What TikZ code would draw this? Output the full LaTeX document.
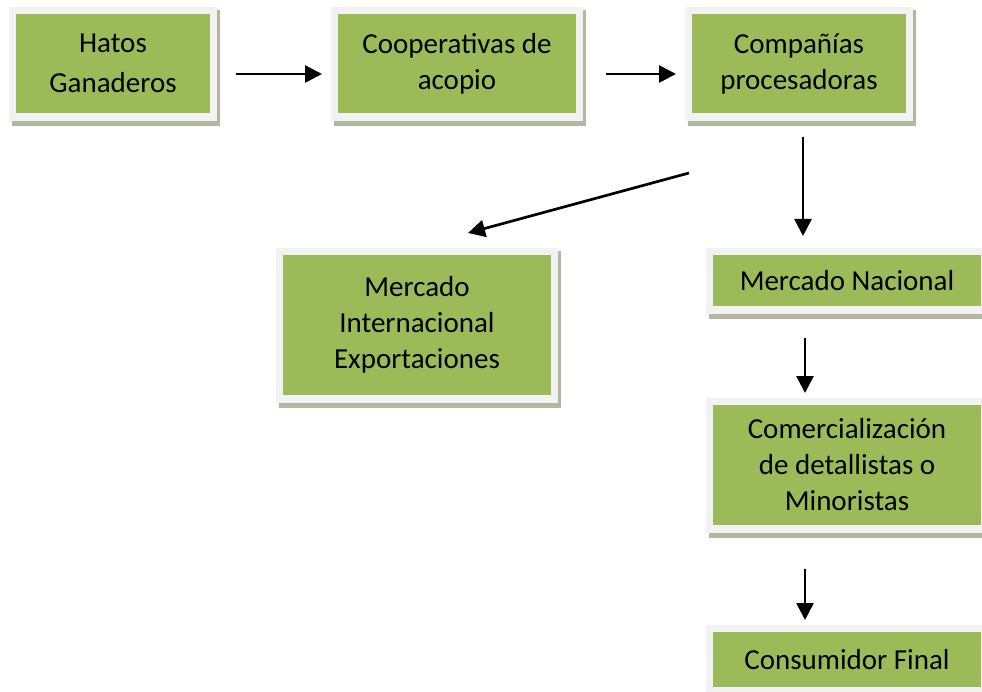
\documentclass[tikz,border=0pt]{standalone}
\usepackage{fontspec}
\setmainfont{Carlito}
\usetikzlibrary{arrows.meta,backgrounds}
\definecolor{boxgreen}{HTML}{9BBB59}
\definecolor{framegray}{HTML}{F2F2F2}
\definecolor{shadowgray}{HTML}{B2B8A0}
\tikzset{
  greenbox/.style={rectangle, fill=boxgreen, inner sep=0pt, align=center,
    font=\fontsize{29}{36}\selectfont, text=black},
  flowarrow/.style={line width=2.7pt, -{Triangle[length=17pt,width=17pt]}},
  frame/.style={fill=framegray},
  shadowbox/.style={fill=shadowgray}
}
\begin{document}
\begin{tikzpicture}[x=1pt,y=-1pt]
\clip (0,0) rectangle (982,692);
% nodes (green inner boxes)
\node[greenbox, font=\fontsize{29}{40}\selectfont, minimum width=194pt, minimum height=99pt] (hatos) at (113,63.5)
  {Hatos\\Ganaderos};
\node[greenbox, minimum width=238pt, minimum height=99pt] (coop) at (457,63.5)
  {Cooperativas de\\acopio};
\node[greenbox, minimum width=214pt, minimum height=99pt] (comp) at (799,63.5)
  {Compañías\\procesadoras};
\node[greenbox, minimum width=268pt, minimum height=140pt] (inter) at (417,325)
  {Mercado\\Internacional\\Exportaciones};
\node[greenbox, minimum width=268pt, minimum height=51pt] (nac) at (847,280.5)
  {Mercado Nacional};
\node[greenbox, minimum width=268pt, minimum height=120pt] (com) at (847,465)
  {Comercialización\\de detallistas o\\Minoristas};
\node[greenbox, minimum width=268pt, minimum height=55pt] (cons) at (847,659.5)
  {Consumidor Final};
% frames and shadows
\begin{scope}[on background layer]
  \fill[white] (0,0) rectangle (982,692);
  \foreach \n in {hatos,coop,comp,inter,nac,com,cons}{
    \fill[shadowbox] ([shift={(-4,-4)}]\n.north west) rectangle ([shift={(10,13)}]\n.south east);
    \fill[frame] ([shift={(-7,-7)}]\n.north west) rectangle ([shift={(7,8)}]\n.south east);
  }
\end{scope}
% arrow end points
\coordinate (a1s) at (236,74);  \coordinate (a1e) at (322,74);
\coordinate (a2s) at (606,74);  \coordinate (a2e) at (676,74);
\coordinate (a3s) at (689,173); \coordinate (a3e) at (468,233);
\coordinate (a4s) at (803,137); \coordinate (a4e) at (803,236);
\coordinate (a5s) at (805,338); \coordinate (a5e) at (805,393);
\coordinate (a6s) at (805,569); \coordinate (a6e) at (805,620);
\draw[flowarrow] (a1s) -- (a1e);
\draw[flowarrow] (a2s) -- (a2e);
\draw[flowarrow] (a3s) -- (a3e);
\draw[flowarrow] (a4s) -- (a4e);
\draw[flowarrow] (a5s) -- (a5e);
\draw[flowarrow] (a6s) -- (a6e);
\end{tikzpicture}
\end{document}
